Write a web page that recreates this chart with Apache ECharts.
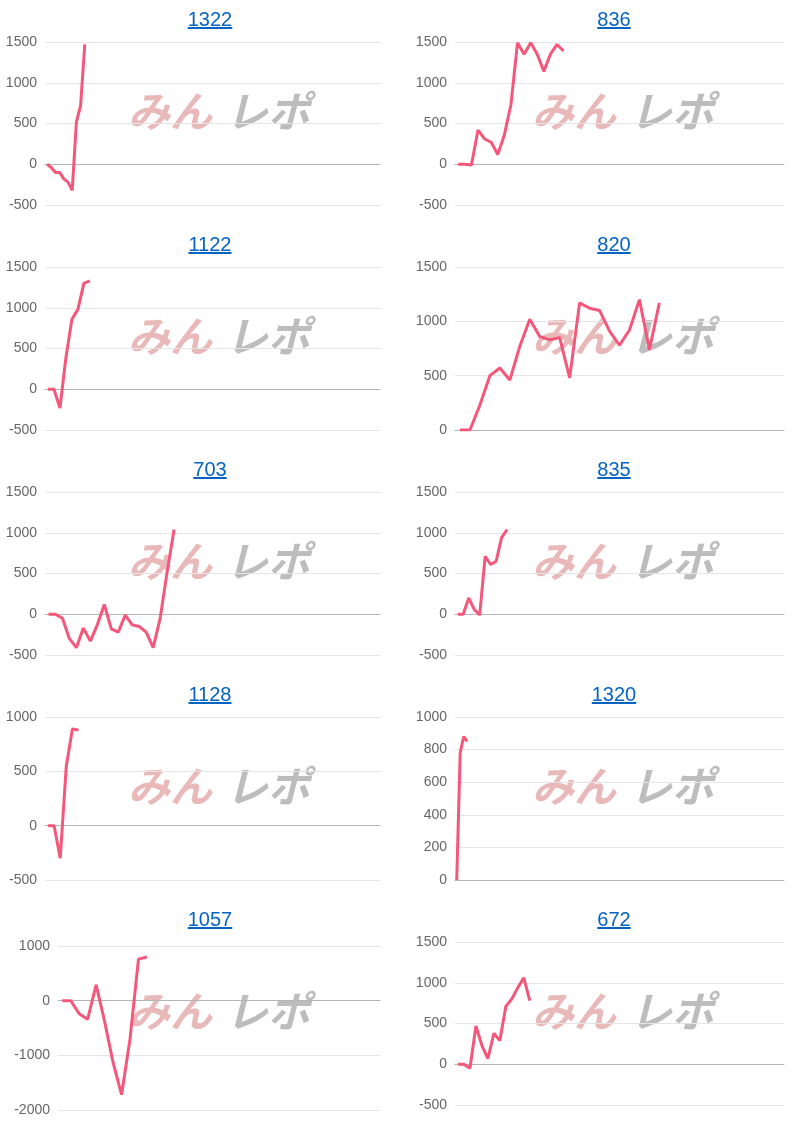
<!DOCTYPE html>
<html><head><meta charset="utf-8">
<script src="https://cdn.jsdelivr.net/npm/echarts@6/dist/echarts.min.js"></script>
<style>
body{margin:0;background:#fff;width:809px;height:1125px;position:relative;overflow:hidden;font-family:Arial,"Liberation Sans",sans-serif}
.panel{position:absolute;width:404px;height:225px}
.panel a{position:absolute;top:8px;left:8px;width:100%;text-align:center;font-size:20px;color:#0563c1;text-decoration:underline;z-index:2}
.chart{position:absolute;left:0;top:0;width:404px;height:225px}
</style></head><body>
<script>
// title, slot count, y range and values per chart
var titles = ['1322', '836', '1122', '820', '703', '835', '1128', '1320', '1057', '672'];
var slots = [80, 50, 56, 33, 48, 60, 55, 95, 38, 55];
var yMin = [-500, -500, -500, 0, -500, -500, -500, 0, -2000, -500];
var yMax = [1500, 1500, 1500, 1500, 1500, 1500, 1000, 1000, 1000, 1500];
var yStep = [500, 500, 500, 500, 500, 500, 500, 200, 1000, 500];

var v1322 = [0, -40, -100, -100, -180, -220, -320, 520, 720, 1470];
var v836 = [0, 0, -10, 420, 310, 270, 120, 360, 730, 1490, 1350, 1490, 1350, 1140, 1350, 1470, 1390];
var v1122 = [0, 0, -230, 390, 860, 980, 1300, 1330];
var v820 = [0, 0, 230, 500, 570, 460, 770, 1020, 860, 830, 850, 480, 1170, 1120, 1100, 910, 780, 920, 1200, 740, 1170];
var v703 = [0, 0, -50, -300, -410, -170, -330, -130, 120, -180, -220, -10, -130, -150, -220, -410, -50, 520, 1040];
var v835 = [0, 0, 200, 60, -10, 710, 610, 650, 940, 1040];
var v1128 = [0, 0, -300, 550, 890, 880];
var v1320 = [0, 780, 880, 850];
var v1057 = [0, 0, -240, -340, 290, -380, -1130, -1720, -700, 760, 800];
var v672 = [0, 0, -50, 470, 230, 70, 380, 290, 710, 800, 940, 1060, 780];
var values = [v1322, v836, v1122, v820, v703, v835, v1128, v1320, v1057, v672];

titles.forEach(function (t, i) {
    var col = i % 2, row = Math.floor(i / 2);
    var p = document.createElement('div');
    p.className = 'panel';
    p.style.left = (col * 404) + 'px';
    p.style.top = (row * 225) + 'px';
    p.innerHTML = '<a href="#">' + t + '</a><div class="chart"></div>';
    document.body.appendChild(p);

    var cats = [];
    for (var k = 0; k < slots[i]; k++) cats.push(String(k + 1));

    var chart = echarts.init(p.querySelector('.chart'));
    var left = col ? 51 : (i === 8 ? 58 : 45);
    chart.setOption({
        animation: false,
        grid: {left: left, right: 24, top: i === 8 ? 46 : 42, bottom: i === 8 ? 15 : 20},
        xAxis: {
            type: 'category', data: cats, boundaryGap: true,
            axisLabel: {show: false}, axisTick: {show: false},
            axisLine: {lineStyle: {color: '#b5b5b5'}}
        },
        yAxis: {
            type: 'value', min: yMin[i], max: yMax[i], interval: yStep[i],
            axisLabel: {color: '#666', fontSize: 14, margin: 8, formatter: function (v) { return String(v); }},
            splitLine: {lineStyle: {color: '#e5e5e5'}}
        },
        graphic: [
            {type: 'text', left: 128, top: 90, z: 0, style: {text: 'みん', font: 'italic bold 42px "Noto Sans CJK JP"', fill: '#e9b9b9'}},
            {type: 'text', left: 226, top: 90, z: 0, style: {text: 'レポ', font: 'italic bold 42px "Noto Sans CJK JP"', fill: '#bdbdbd'}}
        ],
        series: [{
            type: 'line', data: values[i], showSymbol: false, z: 5,
            lineStyle: {color: '#f5577a', width: 3}
        }]
    });
});
</script>
</body></html>
